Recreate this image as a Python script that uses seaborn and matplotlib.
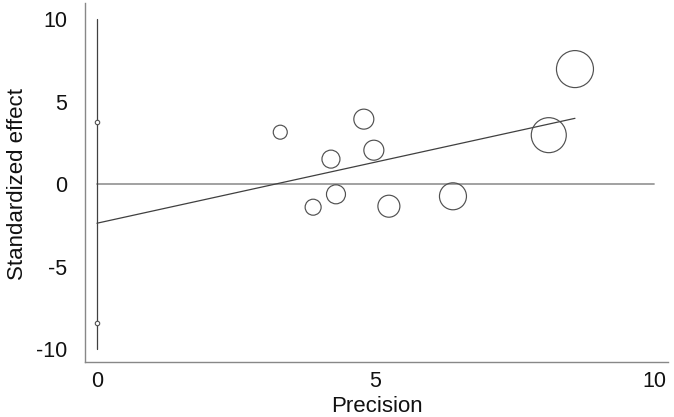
import matplotlib
matplotlib.use("Agg")
import matplotlib.pyplot as plt
import seaborn as sns
import numpy as np
import pandas as pd

# Study data (precision, standardized effect) and marker radius (weight)
precision = [3.29, 4.79, 4.20, 4.97, 3.88, 4.29, 5.24, 6.39, 8.11, 8.58]
std_effect = [3.15, 3.94, 1.52, 2.06, -1.39, -0.61, -1.33, -0.73, 2.97, 6.97]
radius_px = [7, 10, 9, 10, 8, 9.5, 11, 13.5, 17.5, 18.5]

# Egger regression line and intercept CI
intercept = -2.36
slope = 0.74
ci_low, ci_high = -8.42, 3.76

xticks = [0, 5, 10]
yticks = [-10, -5, 0, 5, 10]

sns.set_theme(style="white")
plt.rcParams['font.family'] = ['Liberation Sans', 'DejaVu Sans']

fig = plt.figure(figsize=(6.74, 4.17), dpi=100)
ax = fig.add_axes([85 / 674, (417 - 361.5) / 417, (668 - 85) / 674, (361.5 - 3) / 417])

df = pd.DataFrame({"Precision": precision, "Standardized effect": std_effect})
sizes = [(2 * r * 0.72) ** 2 for r in radius_px]
sns.scatterplot(data=df, x="Precision", y="Standardized effect", ax=ax,
                s=sizes, facecolors="none", edgecolor="#505050", linewidth=0.85,
                zorder=3, legend=False)

# horizontal zero line
ax.plot([0, 10], [0, 0], color="#9a9a9a", lw=1.3, zorder=1)
# regression line
xmax = max(precision)
ax.plot([0, xmax], [intercept, intercept + slope * xmax], color="#404040", lw=0.9, zorder=2)
# vertical line at 0 with CI markers
ax.plot([0, 0], [-10, 10], color="#404040", lw=0.9, zorder=2)
ax.plot([0, 0], [ci_low, ci_high], linestyle="none", marker="o", ms=3.2,
        mfc="white", mec="#505050", mew=0.8, zorder=3)

ax.set_xlim(-0.215, 10.25)
ax.set_ylim(-10.73, 10.97)
ax.set_xticks(xticks)
ax.set_yticks(yticks)
ax.set_xticklabels([str(t) for t in xticks])
ax.set_yticklabels([str(t) for t in yticks])

for s in ["top", "right"]:
    ax.spines[s].set_visible(False)
for s in ["left", "bottom"]:
    ax.spines[s].set_color("#888888")
    ax.spines[s].set_linewidth(1.0)

ax.tick_params(axis="both", which="major", direction="out", width=1.0,
               color="#888888", labelsize=15.5, labelcolor="#111111")
ax.tick_params(axis="y", length=6.5, pad=6.5)
ax.tick_params(axis="x", length=4, pad=3)
ax.set_xlabel("Precision", fontsize=16, color="#111111", labelpad=2.5)
ax.set_ylabel("Standardized effect", fontsize=16, color="#111111")
ax.yaxis.set_label_coords(-0.098, 0.494)

fig.savefig("out.png", dpi=100)
